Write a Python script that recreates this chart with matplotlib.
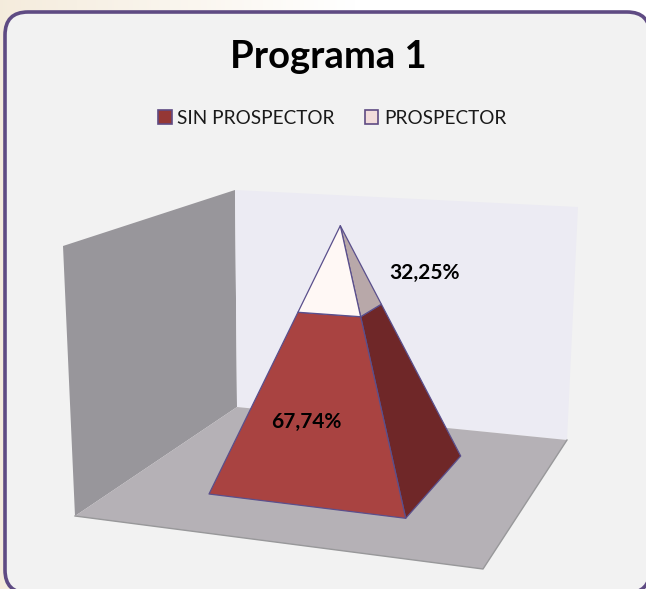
import numpy as np
import matplotlib
matplotlib.use('Agg')
import matplotlib.pyplot as plt
from matplotlib.patches import FancyBboxPatch, Polygon, Rectangle

# data
series = ['SIN PROSPECTOR', 'PROSPECTOR']
shares = [67.74, 32.25]
labels = ['67,74%', '32,25%']
title = 'Programa 1'

# scene geometry in image pixels
apex = np.array([340.3, 225.7])
base_left = np.array([209, 494])
base_front = np.array([405.7, 518.3])
base_right = np.array([460.7, 456])


def on_edge(p, frac):
    return p + (apex - p) * frac


plt.rcParams['font.family'] = ['Lato', 'DejaVu Sans']

fig = plt.figure(figsize=(6.46, 5.89), dpi=100)
ax = fig.add_axes([0, 0, 1, 1])
ax.set_xlim(0, 646)
ax.set_ylim(589, 0)
ax.axis('off')

# beige page behind the panel, fading out to white
grad = np.linspace(0, 1, 646).clip(0, 0.55) / 0.55
bg = np.ones((1, 646, 3))
bg[0, :, 0] = 0.96 + 0.04 * grad
bg[0, :, 1] = 0.925 + 0.075 * grad
bg[0, :, 2] = 0.865 + 0.135 * grad
ax.imshow(bg, extent=(0, 646, 589, 0), aspect='auto', zorder=0)

ax.add_patch(FancyBboxPatch((5, 12), 645, 581,
                            boxstyle='round,pad=0,rounding_size=23',
                            fc='#f2f2f2', ec='#5f4b83', lw=2.6, zorder=1))

# walls and floor
ax.add_patch(Polygon([(63, 246), (235, 190), (237, 407), (75, 516)], fc='#98969b', ec='none', zorder=2))
ax.add_patch(Polygon([(235, 190), (578, 207), (567, 440), (237, 407)], fc='#ecebf3', ec='none', zorder=2))
ax.add_patch(Polygon([(75, 516), (237, 407), (567, 440), (483, 569)], fc='#b5b1b6', ec='none', zorder=2))
ax.plot([75, 483, 567], [516, 569, 440], color='#98989a', lw=1, zorder=2)

# pyramid, cut at the share of the first series (factors are the perspective of each edge)
frac = shares[0] / 100
cut_left = on_edge(base_left, frac)
cut_front = on_edge(base_front, frac * 1.017)
cut_right = on_edge(base_right, frac * 0.973)
edge = '#5a4f8c'
faces = [
    ([base_front, base_right, cut_right, cut_front], '#6f2728'),
    ([cut_front, cut_right, apex], '#b8a8a9'),
    ([base_left, base_front, cut_front, cut_left], '#a94341'),
    ([cut_left, cut_front, apex], '#fff8f5'),
]
for pts, col in faces:
    ax.add_patch(Polygon(pts, fc=col, ec=edge, lw=0.9, joinstyle='round', zorder=3))

# texts
ax.text(328, 57, title, ha='center', va='center', fontsize=27.5, fontweight='bold', color='black', zorder=5)
ax.text(306, 422, labels[0], ha='center', va='center', fontsize=15, fontweight='bold', color='black', zorder=5)
ax.text(425, 273, labels[1], ha='center', va='center', fontsize=15, fontweight='bold', color='black', zorder=5)

# legend
ax.add_patch(Rectangle((158, 110), 13.5, 14, fc='#953735', ec='#5f4b83', lw=1.2, zorder=5))
ax.text(177, 118, series[0], ha='left', va='center', fontsize=13.7, color='#1a1a1a', zorder=5)
ax.add_patch(Rectangle((364.5, 110), 13.5, 14, fc='#f2dcdb', ec='#5f4b83', lw=1.2, zorder=5))
ax.text(384, 118, series[1], ha='left', va='center', fontsize=13.7, color='#1a1a1a', zorder=5)

fig.savefig('out.png', dpi=100)
